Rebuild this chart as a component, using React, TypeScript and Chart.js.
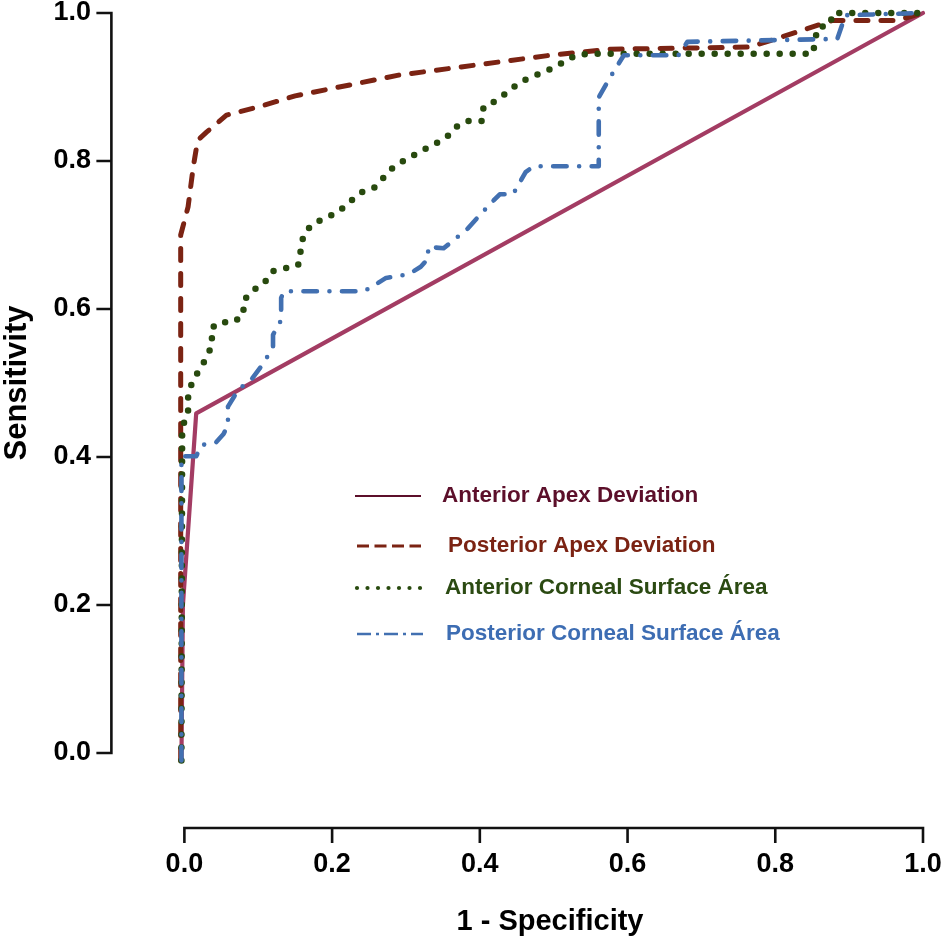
import { useEffect, useRef } from "react";
import { Chart, registerables } from "chart.js";

Chart.register(...registerables);

// ---- Data ----
const xTickValues = [0, 0.2, 0.4, 0.6, 0.8, 1.0];
const xTickLabels = ["0.0", "0.2", "0.4", "0.6", "0.8", "1.0"];
const yTickValues = [0, 0.2, 0.4, 0.6, 0.8, 1.0];
const yTickLabels = ["0.0", "0.2", "0.4", "0.6", "0.8", "1.0"];

const xAxisTitle = "1 - Specificity";
const yAxisTitle = "Sensitivity";

const seriesNames = [
  "Anterior Apex Deviation",
  "Posterior Apex Deviation",
  "Anterior Corneal Surface Área",
  "Posterior Corneal Surface Área",
];

// Anterior Apex Deviation (solid)
const antApexX = [-0.004, -0.002, 0.016, 1.0];
const antApexY = [-0.01, 0.2, 0.459, 1.0];

// Posterior Apex Deviation (dashed)
const postApexX = [-0.005, -0.005, 0.005, 0.012, 0.018, 0.03, 0.057, 0.1, 0.15, 0.29, 0.496, 0.577, 0.766, 0.878, 0.965, 1.0];
const postApexY = [-0.01, 0.7, 0.738, 0.792, 0.828, 0.839, 0.862, 0.873, 0.888, 0.916, 0.943, 0.951, 0.954, 0.99, 0.99, 1.0];

// Anterior Corneal Surface Area (dotted)
const antCorneaX = [-0.004, -0.003, 0.005, 0.005, 0.01, 0.019, 0.03, 0.038, 0.036, 0.046, 0.066, 0.08, 0.08, 0.091, 0.108, 0.119, 0.136, 0.154, 0.161, 0.172, 0.208, 0.238, 0.257, 0.284, 0.318, 0.354, 0.368, 0.382, 0.403, 0.405, 0.423, 0.455, 0.5, 0.53, 0.55, 0.851, 0.857, 0.874, 0.878, 1.0];
const antCorneaY = [-0.01, 0.44, 0.46, 0.48, 0.5, 0.516, 0.534, 0.553, 0.573, 0.582, 0.582, 0.592, 0.611, 0.624, 0.635, 0.651, 0.655, 0.659, 0.699, 0.714, 0.731, 0.757, 0.764, 0.793, 0.812, 0.831, 0.846, 0.854, 0.854, 0.873, 0.882, 0.907, 0.926, 0.943, 0.945, 0.945, 0.98, 0.984, 1.0, 1.0];

// Posterior Corneal Surface Area (dash-dot)
const postCorneaX = [-0.004, -0.004, 0.016, 0.023, 0.043, 0.053, 0.059, 0.059, 0.073, 0.091, 0.108, 0.12, 0.12, 0.131, 0.131, 0.135, 0.243, 0.257, 0.273, 0.293, 0.307, 0.32, 0.33, 0.33, 0.351, 0.384, 0.401, 0.418, 0.427, 0.445, 0.462, 0.473, 0.561, 0.561, 0.577, 0.595, 0.669, 0.681, 0.884, 0.895, 1.0];
const postCorneaY = [-0.01, 0.401, 0.401, 0.416, 0.42, 0.431, 0.443, 0.468, 0.491, 0.505, 0.528, 0.549, 0.565, 0.585, 0.615, 0.624, 0.624, 0.632, 0.642, 0.645, 0.649, 0.657, 0.668, 0.684, 0.682, 0.709, 0.728, 0.746, 0.755, 0.755, 0.785, 0.793, 0.793, 0.886, 0.914, 0.943, 0.943, 0.961, 0.965, 0.997, 1.0];

// ---- Styles ----
const FONT = "'Liberation Sans', Arial, Helvetica, sans-serif";
const lineColors = ["#A33C63", "#7B2313", "#284A0E", "#4270B1"];
const legendTextColors = ["#5C0F2A", "#7B2313", "#2B4A12", "#3D6DB3"];

const toPts = (xs: number[], ys: number[]) => xs.map((x, i) => ({ x, y: ys[i] }));

const offsetAxesPlugin = {
  id: "offsetAxes",
  afterDraw(chart: any) {
    const { ctx, scales } = chart;
    const xs = scales.x;
    const ys = scales.y;
    const axisX = xs.getPixelForValue(0) - 73;
    const axisY = ys.getPixelForValue(0) + 75;
    const tickLen = 15;
    ctx.save();
    ctx.strokeStyle = "#111111";
    ctx.lineWidth = 2.6;
    ctx.lineCap = "butt";
    ctx.beginPath();
    ctx.moveTo(axisX, ys.getPixelForValue(yTickValues[0]) + 1.3);
    ctx.lineTo(axisX, ys.getPixelForValue(yTickValues[yTickValues.length - 1]) - 1.3);
    yTickValues.forEach((v) => {
      const p = ys.getPixelForValue(v);
      ctx.moveTo(axisX - tickLen, p);
      ctx.lineTo(axisX, p);
    });
    ctx.moveTo(xs.getPixelForValue(xTickValues[0]) - 1.3, axisY);
    ctx.lineTo(xs.getPixelForValue(xTickValues[xTickValues.length - 1]) + 1.3, axisY);
    xTickValues.forEach((v) => {
      const p = xs.getPixelForValue(v);
      ctx.moveTo(p, axisY);
      ctx.lineTo(p, axisY + tickLen);
    });
    ctx.stroke();

    // Legend (drawn inside the plot like the original)
    const sx0 = 355;
    const sx1 = 421;
    const rowsY = [496, 546, 588, 634];
    const textX = [442, 448, 445, 446];
    ctx.font = `bold 22.5px ${FONT}`;
    ctx.textBaseline = "middle";
    ctx.textAlign = "left";
    rowsY.forEach((y, i) => {
      ctx.save();
      ctx.strokeStyle = i === 0 ? legendTextColors[0] : lineColors[i];
      ctx.fillStyle = lineColors[i];
      if (i === 0) {
        ctx.lineWidth = 2;
        ctx.beginPath();
        ctx.moveTo(sx0, y);
        ctx.lineTo(sx1, y);
        ctx.stroke();
      } else if (i === 1) {
        ctx.lineWidth = 3.2;
        ctx.setLineDash([12, 5.5]);
        ctx.beginPath();
        ctx.moveTo(sx0 + 2, y);
        ctx.lineTo(sx1, y);
        ctx.stroke();
      } else if (i === 2) {
        for (let k = 0; k < 7; k++) {
          ctx.beginPath();
          ctx.arc(sx0 + 2 + k * 10.5, y, 2.1, 0, Math.PI * 2);
          ctx.fill();
        }
      } else {
        ctx.lineWidth = 2.6;
        ctx.setLineDash([14, 5, 3, 5]);
        ctx.beginPath();
        ctx.moveTo(sx0 + 2, y);
        ctx.lineTo(sx1 + 2, y);
        ctx.stroke();
      }
      ctx.restore();
      ctx.fillStyle = legendTextColors[i];
      ctx.fillText(seriesNames[i], textX[i], y);
    });
    ctx.restore();
  },
};

export default function App() {
  const canvasRef = useRef<HTMLCanvasElement | null>(null);

  useEffect(() => {
    const canvas = canvasRef.current;
    if (!canvas) return;
    const common = {
      showLine: true,
      pointRadius: 0,
      pointHoverRadius: 0,
      tension: 0,
      fill: false,
      clip: false as any,
      borderJoinStyle: "round" as const,
      borderCapStyle: "round" as const,
    };
    const chart = new Chart(canvas, {
      type: "scatter",
      data: {
        datasets: [
          {
            ...common,
            label: seriesNames[3],
            data: toPts(postCorneaX, postCorneaY),
            borderColor: lineColors[3],
            backgroundColor: lineColors[3],
            borderWidth: 4.6,
            borderDash: [13.5, 12.5, 0, 12.5],
            order: 1,
          },
          {
            ...common,
            label: seriesNames[2],
            data: toPts(antCorneaX, antCorneaY),
            borderColor: lineColors[2],
            backgroundColor: lineColors[2],
            borderWidth: 6.5,
            borderDash: [0, 13],
            order: 2,
          },
          {
            ...common,
            label: seriesNames[1],
            data: toPts(postApexX, postApexY),
            borderColor: lineColors[1],
            backgroundColor: lineColors[1],
            borderWidth: 5,
            borderDash: [12, 13],
            order: 3,
          },
          {
            ...common,
            label: seriesNames[0],
            data: toPts(antApexX, antApexY),
            borderColor: lineColors[0],
            backgroundColor: lineColors[0],
            borderWidth: 4.2,
            order: 4,
          },
        ],
      },
      options: {
        animation: false,
        responsive: false,
        devicePixelRatio: 1,
        layout: { padding: { top: 13, right: 22, left: 0, bottom: 0 } },
        plugins: {
          legend: { display: false },
          tooltip: { enabled: false },
        },
        scales: {
          x: {
            type: "linear",
            position: "bottom",
            min: -0.01,
            max: 1,
            grid: { display: false, drawTicks: false },
            border: { display: false },
            afterBuildTicks: (scale: any) => {
              scale.ticks = xTickValues.map((v) => ({ value: v }));
            },
            afterFit: (scale: any) => {
              scale.height = 193;
              scale.paddingLeft = 0;
              scale.paddingRight = 0;
            },
            ticks: {
              autoSkip: false,
              maxRotation: 0,
              padding: 95,
              color: "#000000",
              font: { family: FONT, size: 27, weight: "bold", lineHeight: 1.2 },
              callback: (_v: any, i: number) => xTickLabels[i],
            },
            title: {
              display: true,
              text: xAxisTitle,
              color: "#000000",
              padding: { top: 0, bottom: 9.5 },
              font: { family: FONT, size: 29, weight: "bold", lineHeight: 1 },
            },
          },
          y: {
            type: "linear",
            position: "left",
            min: 0,
            max: 1,
            grid: { display: false, drawTicks: false },
            border: { display: false },
            afterBuildTicks: (scale: any) => {
              scale.ticks = yTickValues.map((v) => ({ value: v }));
            },
            afterFit: (scale: any) => {
              scale.width = 177;
              scale.paddingTop = 0;
              scale.paddingBottom = 0;
            },
            ticks: {
              autoSkip: false,
              padding: 86,
              color: "#000000",
              font: { family: FONT, size: 27, weight: "bold", lineHeight: 1.2 },
              callback: (_v: any, i: number) => yTickLabels[i],
            },
            title: {
              display: true,
              text: yAxisTitle,
              color: "#000000",
              padding: { top: 10, bottom: 0 },
              font: { family: FONT, size: 31, weight: "bold", lineHeight: 0.5 },
            },
          },
        },
      },
      plugins: [offsetAxesPlugin],
    } as any);
    return () => chart.destroy();
  }, []);

  return (
    <div style={{ position: "absolute", left: 0, top: 0, width: 945, height: 946 }}>
      <canvas ref={canvasRef} width={945} height={946} style={{ display: "block", width: 945, height: 946 }} />
    </div>
  );
}
